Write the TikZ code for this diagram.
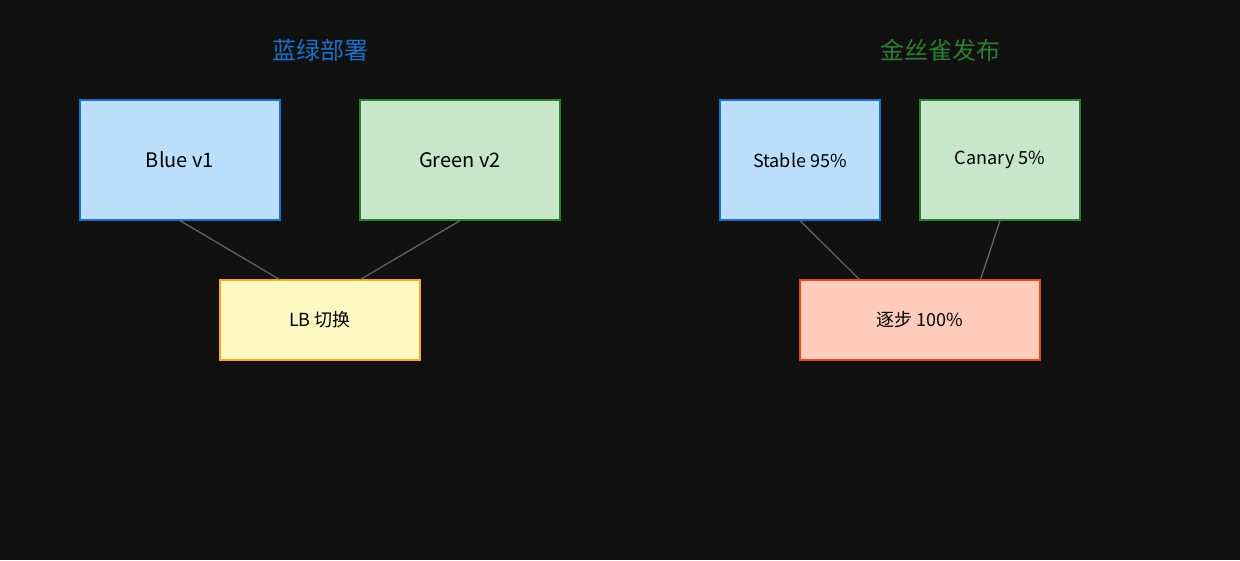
\documentclass[tikz,border=0pt]{standalone}
\usepackage{fontspec}
\setmainfont{Noto Sans CJK SC}
\usetikzlibrary{calc}
\definecolor{bg}{HTML}{111111}
\definecolor{bfill}{HTML}{BBDEFB}\definecolor{bdraw}{HTML}{1E6FC8}
\definecolor{gfill}{HTML}{C8E6C9}\definecolor{gdraw}{HTML}{2E7D32}
\definecolor{yfill}{HTML}{FFF9C4}\definecolor{ydraw}{HTML}{F9A825}
\definecolor{rfill}{HTML}{FFCCBC}\definecolor{rdraw}{HTML}{E64A19}
\definecolor{ln}{HTML}{666666}
\begin{document}
\begin{tikzpicture}[x=1pt,y=-1pt,
 box/.style={draw,line width=1.2pt,inner sep=0pt,font=\fontsize{18}{20}\selectfont,text=black},
 title/.style={font=\fontsize{24}{28}\selectfont},
 conn/.style={draw=ln,line width=1.2pt}]
\fill[bg] (0,0) rectangle (1240,560);
\useasboundingbox (0,0) rectangle (1240,560);
\node[title,text=bdraw] (t1) at (320,50) {蓝绿部署};
\node[title,text=gdraw] (t2) at (940,50) {金丝雀发布};
\node[box,fill=bfill,draw=bdraw,minimum width=200pt,minimum height=120pt,font=\fontsize{20}{22}\selectfont] (blue) at (180,160) {Blue v1};
\node[box,fill=gfill,draw=gdraw,minimum width=200pt,minimum height=120pt,font=\fontsize{20}{22}\selectfont] (green) at (460,160) {Green v2};
\node[box,fill=yfill,draw=ydraw,minimum width=200pt,minimum height=80pt] (lb) at (320,320) {LB 切换};
\node[box,fill=bfill,draw=bdraw,minimum width=160pt,minimum height=120pt] (stable) at (800,160) {Stable 95\%};
\node[box,fill=gfill,draw=gdraw,minimum width=160pt,minimum height=120pt] (canary) at (1000,160) {Canary 5\%};
\node[box,fill=rfill,draw=rdraw,minimum width=240pt,minimum height=80pt] (grad) at (920,320) {逐步 100\%};
\draw[conn] (blue.south) -- ($(lb.north west)+(60,0)$);
\draw[conn] (green.south) -- ($(lb.north east)+(-60,0)$);
\draw[conn] (stable.south) -- ($(grad.north west)+(60,0)$);
\draw[conn] (canary.south) -- ($(grad.north east)+(-60,0)$);
\end{tikzpicture}
\end{document}
